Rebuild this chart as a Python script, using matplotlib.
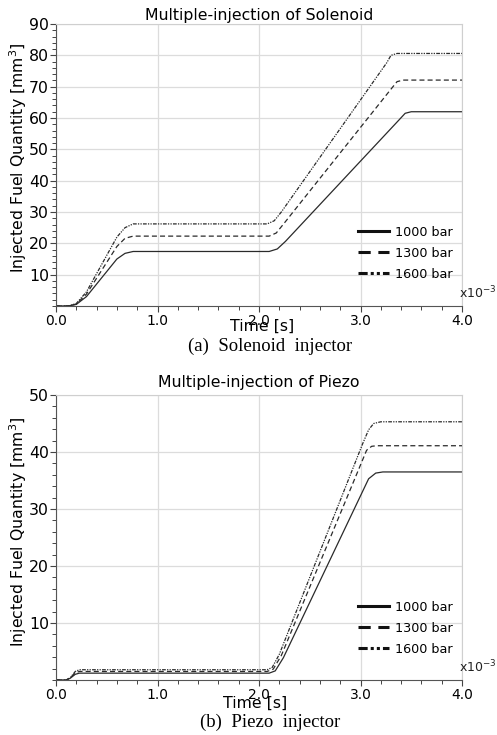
"""
plot.py

Injected fuel quantity vs time for solenoid and piezo injectors
(multiple-injection, three rail pressures).
"""
import matplotlib.pyplot as plt
from matplotlib.ticker import MultipleLocator, FormatStrFormatter

# time in ms (axis is labelled x10^-3 s), quantity in mm^3
sol_t_1000 = [0, 0.12, 0.2, 0.3, 0.6, 0.68, 0.76, 2.1, 2.18, 2.26, 3.38, 3.44, 3.5, 4.0]
sol_q_1000 = [0, 0, 0.5, 3.0, 15.0, 16.8, 17.4, 17.4, 18.2, 20.6, 59.4, 61.5, 62.0, 62.0]
sol_t_1300 = [0, 0.12, 0.2, 0.3, 0.6, 0.68, 0.76, 2.1, 2.17, 2.25, 3.3, 3.36, 3.42, 4.0]
sol_q_1300 = [0, 0, 0.6, 3.8, 19.0, 21.6, 22.3, 22.3, 23.3, 26.5, 69.2, 71.6, 72.1, 72.1]
sol_t_1600 = [0, 0.12, 0.2, 0.3, 0.6, 0.68, 0.76, 2.08, 2.15, 2.22, 3.26, 3.30, 3.36, 4.0]
sol_q_1600 = [0, 0, 0.8, 4.5, 22.0, 25.0, 26.2, 26.2, 27.2, 30.0, 77.7, 80.0, 80.6, 80.6]

pie_t_1000 = [0, 0.1, 0.14, 0.19, 0.23, 2.1, 2.16, 2.24, 3.08, 3.15, 3.22, 4.0]
pie_q_1000 = [0, 0, 0.3, 1.0, 1.2, 1.2, 1.6, 3.9, 35.3, 36.3, 36.5, 36.5]
pie_t_1300 = [0, 0.1, 0.14, 0.19, 0.23, 2.08, 2.14, 2.22, 3.06, 3.11, 3.16, 4.0]
pie_q_1300 = [0, 0, 0.35, 1.25, 1.5, 1.5, 1.9, 4.3, 40.3, 41.0, 41.1, 41.1]
pie_t_1600 = [0, 0.1, 0.14, 0.19, 0.23, 2.08, 2.13, 2.2, 3.02, 3.08, 3.13, 3.2, 4.0]
pie_q_1600 = [0, 0, 0.4, 1.5, 1.8, 1.8, 2.2, 4.5, 41.4, 43.9, 45.0, 45.3, 45.3]

pressures = ["1000 bar", "1300 bar", "1600 bar"]
styles = ["-", (0, (4, 2.5)), (0, (3, 1, 1, 1, 1, 1))]

W, H = 497, 735


def panel(fig, rect, series, ymax, title, caption, title_pad, label_y, time_x, cap_y, time_y, leg_y):
    ax = fig.add_axes(rect)
    for (t, q), ls, lab in zip(series, styles, pressures):
        ax.plot(t, q, color="#2a2a2a", lw=0.9, linestyle=ls, label=lab)

    ax.set_xlim(0, 4)
    ax.set_ylim(0, ymax)
    ax.xaxis.set_major_locator(MultipleLocator(1))
    ax.xaxis.set_minor_locator(MultipleLocator(0.2))
    ax.xaxis.set_major_formatter(FormatStrFormatter("%.1f"))
    ax.set_yticks(range(10, ymax + 1, 10))
    ax.yaxis.set_minor_locator(MultipleLocator(2))
    ax.grid(True, which="major", color="#dcdcdc", lw=0.9)
    ax.set_axisbelow(True)

    ax.tick_params(axis="x", which="major", length=4, width=0.8, labelsize=10, pad=1.5, color="#444")
    ax.tick_params(axis="x", which="minor", length=3, width=0.7, color="#444")
    ax.tick_params(axis="y", which="major", length=4, width=0.8, labelsize=11.3, pad=1, color="#444")
    ax.tick_params(axis="y", which="minor", length=3, width=0.7, color="#444")
    for s in ["top", "right"]:
        ax.spines[s].set_color("#cfcfcf")
    for s in ["left", "bottom"]:
        ax.spines[s].set_color("#555555")

    ax.set_title(title, fontsize=11.3, pad=title_pad)
    ax.text(0.993, 0.015, r"x10$^{-3}$", transform=ax.transAxes, fontsize=9,
            ha="left", va="bottom", color="#222")

    leg = ax.legend(loc="lower left", bbox_to_anchor=(0.745, leg_y), frameon=False,
                    fontsize=9.2, handlelength=2.4, handletextpad=0.45, labelspacing=0.62,
                    borderpad=0, borderaxespad=0)
    for line in leg.get_lines():
        line.set_linewidth(2.2)
        line.set_color("#111111")

    fig.text(18 / W, 1 - label_y / H, r"Injected Fuel Quantity [mm$^3$]", rotation=90,
             ha="center", va="center", fontsize=11.3)
    fig.text(time_x / W, 1 - time_y / H, "Time [s]", ha="center", va="center", fontsize=11.3)
    fig.text(270 / W, 1 - cap_y / H, caption, ha="center", va="center",
             fontsize=13.5, family="Liberation Serif")
    return ax


fig = plt.figure(figsize=(W / 100, H / 100), dpi=100)

panel(fig, [56 / W, 1 - 306 / H, 406 / W, 282 / H],
      [(sol_t_1000, sol_q_1000), (sol_t_1300, sol_q_1300), (sol_t_1600, sol_q_1600)],
      90, "Multiple-injection of Solenoid", "(a)  Solenoid  injector",
      title_pad=3, label_y=158, time_x=262, cap_y=346, time_y=326, leg_y=0.09)

panel(fig, [56 / W, 1 - 680 / H, 406 / W, 285 / H],
      [(pie_t_1000, pie_q_1000), (pie_t_1300, pie_q_1300), (pie_t_1600, pie_q_1600)],
      50, "Multiple-injection of Piezo", "(b)  Piezo  injector",
      title_pad=6, label_y=532, time_x=255, cap_y=722, time_y=703, leg_y=0.085)

plt.savefig("out.png", dpi=100)
